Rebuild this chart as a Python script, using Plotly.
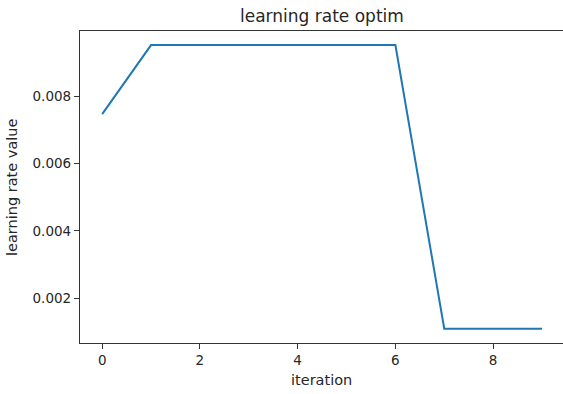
import plotly.graph_objects as go

iteration = [0, 1, 2, 3, 4, 5, 6, 7, 8, 9]
lr_value = [0.00747, 0.00952, 0.00952, 0.00952, 0.00952, 0.00952, 0.00952, 0.0011, 0.0011, 0.0011]
x_ticks = [0, 2, 4, 6, 8]
y_ticks = [0.002, 0.004, 0.006, 0.008]
y_tick_labels = ["0.002", "0.004", "0.006", "0.008"]

font_family = "DejaVu Sans"
text_color = "#262626"

fig = go.Figure()
fig.add_trace(go.Scatter(x=iteration, y=lr_value, mode="lines",
                         line=dict(color="#1f77b4", width=2)))

fig.update_layout(
    width=563, height=394,
    margin=dict(l=80, r=0, t=31, b=51),
    paper_bgcolor="white", plot_bgcolor="white",
    showlegend=False,
    font=dict(family=font_family, color=text_color),
    xaxis=dict(range=[-0.454, 9.43], tickvals=x_ticks, ticks="outside", ticklen=5,
               tickcolor="#333", showgrid=False, zeroline=False, showline=True,
               linecolor="#333", linewidth=1.2, mirror=True,
               tickfont=dict(size=13.5, family=font_family, color=text_color)),
    yaxis=dict(range=[0.000674, 0.009938], tickvals=y_ticks, ticktext=y_tick_labels,
               ticks="outside", ticklen=5, tickcolor="#333", showgrid=False,
               zeroline=False, showline=True, linecolor="#333", linewidth=1.2,
               tickfont=dict(size=13.5, family=font_family, color=text_color)),
    annotations=[
        dict(text="learning rate optim", x=0.5, y=1, xref="paper", yref="paper",
             yanchor="middle", yshift=(31 - 16), showarrow=False,
             font=dict(size=17, family=font_family, color=text_color)),
        dict(text="iteration", x=0.5, y=0, xref="paper", yref="paper",
             yanchor="middle", yshift=-(380 - 343), showarrow=False,
             font=dict(size=14.5, family=font_family, color=text_color)),
        dict(text="learning rate value", x=0, y=0.5, xref="paper", yref="paper",
             xanchor="center", yanchor="middle", xshift=-(80 - 12), textangle=-90,
             showarrow=False,
             font=dict(size=14.5, family=font_family, color=text_color)),
    ],
)

fig.write_html("out.html",
               config={"displayModeBar": False},
               post_script="document.body.style.margin='0';document.body.style.overflow='hidden';")
